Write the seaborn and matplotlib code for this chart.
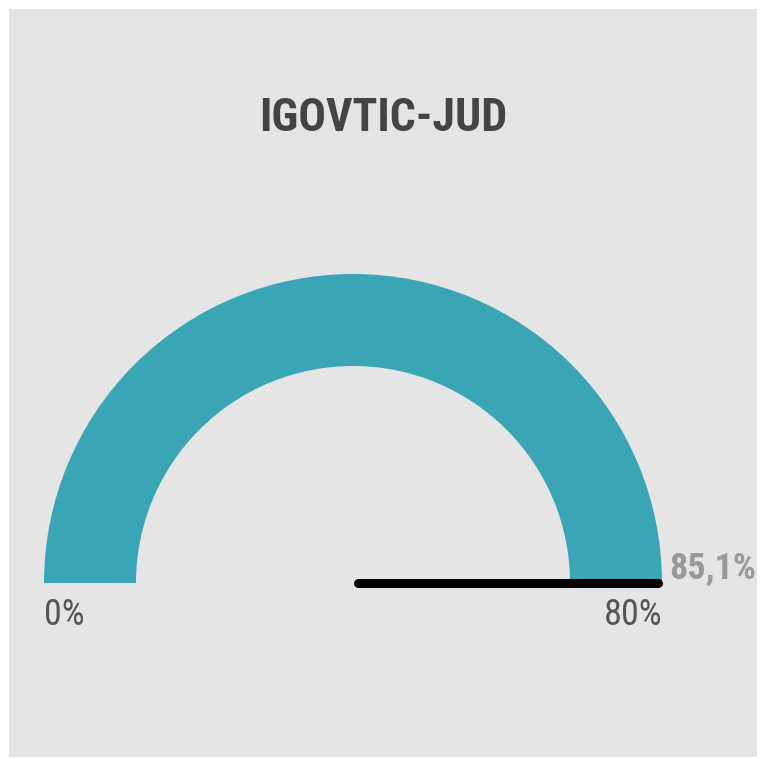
import numpy as np
import matplotlib
matplotlib.use("Agg")
import matplotlib.pyplot as plt
from matplotlib import font_manager
from matplotlib.patches import Wedge
import seaborn as sns

# data
title = "IGOVTIC-JUD"
gauge_min = 0.0
gauge_max = 80.0
value = 85.1
min_label = "0%"
max_label = "80%"
value_label = "85,1%"

sns.set_theme(style="white")
names = {f.name for f in font_manager.fontManager.ttflist}
family = [f for f in ["Liberation Sans Narrow", "Roboto Condensed", "Open Sans Condensed", "Liberation Sans"] if f in names][:1]
plt.rcParams["font.family"] = family + ["DejaVu Sans"]

W, H = 760, 759
fig = plt.figure(figsize=(W / 100, H / 100), dpi=100, facecolor="white")
# grey panel (pixels 9..757)
ax = fig.add_axes([9 / W, (H - 757) / H, 748 / W, 748 / H])
ax.set_facecolor("#e5e5e5")
for s in ax.spines.values():
    s.set_visible(False)

r_out, r_in = 1.0, 217 / 309
teal = "#3aa6b5"
frac = np.clip((value - gauge_min) / (gauge_max - gauge_min), 0, 1)
ax.add_patch(Wedge((0, 0), r_out, 180 - 180 * frac, 180, width=r_out - r_in,
                   facecolor=teal, edgecolor="none"))

# needle
ang = np.pi * (1 - frac)
tip = r_out - 4 / 309
needle = {"x": [0.015, tip * np.cos(ang)], "y": [0, tip * np.sin(ang)]}
sns.lineplot(x=needle["x"], y=needle["y"], ax=ax, color="black", linewidth=6.5,
             solid_capstyle="round", sort=False)

ax.set_xlim(-344 / 309, 404 / 309)
ax.set_ylim(-174 / 309, 574 / 309)
ax.set_aspect("equal")
ax.set_xticks([])
ax.set_yticks([])

ax.text(0.5, (583 - 118) / 309, title, transform=ax.get_yaxis_transform(),
        ha="center", va="center", fontsize=33, fontweight="bold", color="#444444")
ax.text(-r_out, -(615 - 583) / 309, min_label, ha="left", va="center",
        fontsize=26, color="#555555")
ax.text(r_out, -(615 - 583) / 309, max_label, ha="right", va="center",
        fontsize=26, color="#555555")
ax.text(r_out + 7 / 309, (583 - 569) / 309, value_label, ha="left", va="center",
        fontsize=26, fontweight="bold", color="#999999")

fig.savefig("out.png", dpi=100, facecolor="white")
